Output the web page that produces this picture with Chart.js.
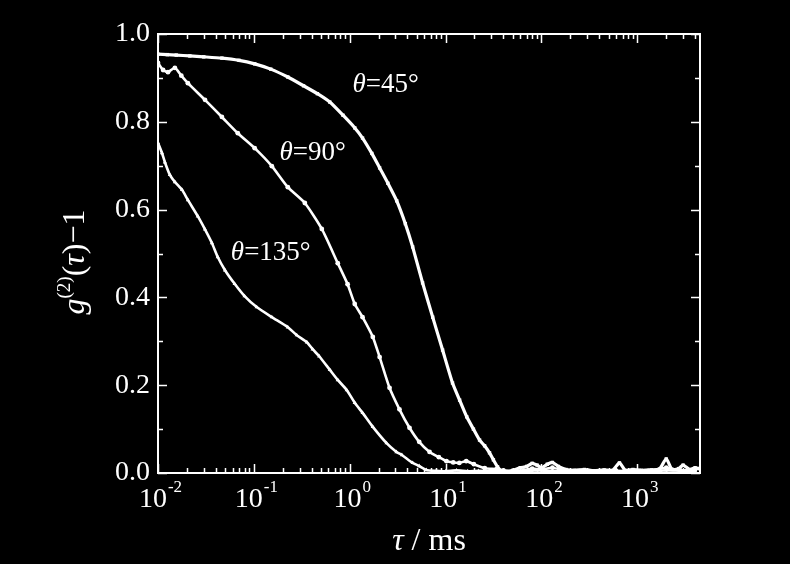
<!DOCTYPE html>
<html><head><meta charset="utf-8">
<script src="https://cdn.jsdelivr.net/npm/chart.js@4/dist/chart.umd.min.js"></script>
<style>html,body{margin:0;padding:0;background:#000;}#wrap{width:790px;height:564px;}</style>
</head><body><div id="wrap"><canvas id="c" width="790" height="564"></canvas></div>
<script>
// ---- data ----
const tau45 = [0.01,0.0125,0.0155,0.0215,0.03,0.0464,0.07,0.102,0.15,0.226,0.33,0.46,0.619,0.85,1.13,1.36,1.7,2.05,2.5,3.09,3.8,4.53,5.75,7.33,9.3,11.8,14,16.6,19.5,22.6,25.5,28.7,31.5,34.8,39.2,
  45,50,60,70,80,90,100,115,130,150,180,220,280,350,450,550,650,750,900,1100,1400,1700,2000,2300,2700,3000,3500,4000,4400];
const g45 = [0.954,0.953,0.952,0.950,0.948,0.945,0.940,0.932,0.920,0.902,0.882,0.864,0.845,0.815,0.786,0.763,0.728,0.695,0.660,0.620,0.568,0.515,0.433,0.355,0.280,0.205,0.166,0.128,0.100,0.075,0.062,0.046,0.030,0.014,0.003,
  0.003,0.006,0.012,0.015,0.022,0.018,0.012,0.020,0.024,0.015,0.008,0.006,0.008,0.005,0.007,0.006,0.023,0.006,0.008,0.006,0.007,0.009,0.032,0.008,0.010,0.018,0.008,0.012,0.010];
const tau90 = [0.01,0.0113,0.0127,0.015,0.0175,0.0205,0.0309,0.0464,0.068,0.102,0.154,0.226,0.34,0.511,0.75,0.95,1.127,1.36,1.74,2.05,2.6,3.3,4.2,5.3,6.8,8.5,10.2,12,13.9,16.4,19.7,25.6,34,
  40,50,65,80,100,130,170,220,300,400,600,900,1300,2000,2800,4000];
const g90 = [0.934,0.918,0.913,0.923,0.905,0.888,0.850,0.811,0.774,0.740,0.699,0.651,0.615,0.556,0.478,0.430,0.385,0.355,0.310,0.264,0.194,0.145,0.103,0.071,0.048,0.036,0.027,0.024,0.023,0.027,0.020,0.011,0.009,
  0.006,0.004,0.006,0.010,0.008,0.012,0.006,0.004,0.005,0.004,0.005,0.004,0.005,0.012,0.006,0.008];
const tau135 = [0.01,0.011,0.0118,0.0133,0.015,0.0178,0.0205,0.026,0.0309,0.0365,0.042,0.05,0.063,0.08,0.107,0.154,0.226,0.28,0.357,0.41,0.48,0.62,0.75,0.93,1.127,1.36,1.74,2.42,3.07,3.5,4.53,5.3,6.3,
  8,10,13,17,22,30,40,60,90,150,250,500,1000,2000,4000];
const g135 = [0.752,0.729,0.708,0.679,0.663,0.645,0.622,0.585,0.555,0.524,0.492,0.462,0.431,0.403,0.378,0.355,0.332,0.314,0.298,0.282,0.266,0.235,0.212,0.189,0.160,0.137,0.105,0.068,0.048,0.041,0.023,0.016,0.007,
  0.005,0.004,0.006,0.004,0.005,0.004,0.005,0.004,0.006,0.004,0.005,0.004,0.004,0.006,0.005];
const seriesNames = ['45°','90°','135°'];
const labelPos = [[2.37,0.884],[0.41,0.729],[0.150,0.501]];
const xDecades = [-2,-1,0,1,2,3];
const yTicks = [0,0.2,0.4,0.6,0.8,1.0];
const xMin = 0.01, xMax = 4500;

const FONT = "'Liberation Serif','Times New Roman',serif";
const pts = (xs, ys) => xs.map((x,i)=>({x:x,y:ys[i]}));

function ds(xs, ys, style, w){
  return {data:pts(xs,ys), borderColor:'#fff', backgroundColor:'#fff', borderWidth:w,
    pointStyle:style, pointRadius:2.4, pointBorderWidth:0, showLine:true, tension:0.2};
}

const deco = {
  id:'deco',
  beforeDraw(chart){
    const c=chart.ctx; c.save(); c.fillStyle='#000'; c.fillRect(0,0,chart.width,chart.height); c.restore();
  },
  afterDraw(chart){
    const c=chart.ctx, a=chart.chartArea, xs=chart.scales.x, ys=chart.scales.y;
    c.save();
    c.strokeStyle='#fff'; c.fillStyle='#fff'; c.lineWidth=2;
    c.strokeRect(a.left, a.top, a.right-a.left, a.bottom-a.top);
    c.lineWidth=1.5;
    for(const d of xDecades){
      for(let m=1;m<=9;m++){
        const v=m*Math.pow(10,d); if(v<xMin||v>xMax) continue;
        const px=Math.round(xs.getPixelForValue(v))+0.5; const L=(m===1)?9:5;
        c.beginPath(); c.moveTo(px,a.bottom); c.lineTo(px,a.bottom-L);
        c.moveTo(px,a.top); c.lineTo(px,a.top+L); c.stroke();
      }
    }
    for(let k=0;k<=10;k++){
      const v=k/10; const py=Math.round(ys.getPixelForValue(v))+0.5; const L=(k%2===0)?9:5;
      c.beginPath(); c.moveTo(a.left,py); c.lineTo(a.left+L,py);
      c.moveTo(a.right,py); c.lineTo(a.right-L,py); c.stroke();
    }
    c.textBaseline='alphabetic';
    for(const d of xDecades){
      const px=xs.getPixelForValue(Math.pow(10,d));
      c.font='28px '+FONT; const wb=c.measureText('10').width;
      const ex=String(d);
      c.font='17px '+FONT; const we=c.measureText(ex).width;
      const x0=px-(wb+we)/2+2;
      c.font='28px '+FONT; c.textAlign='left'; c.fillText('10',x0,507);
      c.font='17px '+FONT; c.fillText(ex,x0+wb+1,492);
    }
    c.font='italic 32px '+FONT; const wt=c.measureText('τ').width;
    c.font='32px '+FONT; const wr=c.measureText(' / ms').width;
    let x0=(a.left+a.right)/2-(wt+wr)/2;
    c.font='italic 32px '+FONT; c.fillText('τ',x0,550);
    c.font='32px '+FONT; c.fillText(' / ms',x0+wt,550);
    c.save(); c.translate(84,262); c.rotate(-Math.PI/2);
    const parts=[['italic 32px ','g',0],['19px ','(2)',-14],['32px ','(',0],['italic 32px ','τ',0],['32px ',')−1',0]];
    let tot=0; for(const p of parts){c.font=p[0]+FONT; tot+=c.measureText(p[1]).width;}
    let cx=-tot/2;
    for(const p of parts){c.font=p[0]+FONT; c.fillText(p[1],cx,p[2]); cx+=c.measureText(p[1]).width;}
    c.restore();
    c.textBaseline='middle';
    seriesNames.forEach((n,i)=>{
      const px=xs.getPixelForValue(labelPos[i][0]), py=ys.getPixelForValue(labelPos[i][1]);
      c.font='italic 27px '+FONT; const w1=c.measureText('θ').width;
      c.font='27px '+FONT; const w2=c.measureText('='+n).width;
      let lx=px-(w1+w2)/2;
      c.font='italic 27px '+FONT; c.fillText('θ',lx,py);
      c.font='27px '+FONT; c.fillText('='+n,lx+w1,py);
    });
    c.restore();
  }
};

new Chart(document.getElementById('c'),{
  type:'line',
  data:{datasets:[ds(tau45,g45,'rect',3.2),ds(tau90,g90,'circle',2.6),ds(tau135,g135,'triangle',2.6)]},
  options:{
    responsive:false, animation:false, devicePixelRatio:1,
    layout:{padding:{top:34,right:90,left:0,bottom:0}},
    plugins:{legend:{display:false},tooltip:{enabled:false}},
    scales:{
      x:{type:'logarithmic',min:xMin,max:xMax,
        grid:{display:false,drawTicks:false}, border:{display:false},
        ticks:{display:false},
        afterFit(s){s.height=91;}},
      y:{type:'linear',min:0,max:1,
        grid:{display:false,drawTicks:false}, border:{display:false},
        afterBuildTicks(s){s.ticks=yTicks.map(v=>({value:v}));},
        ticks:{color:'#fff',padding:8,font:{family:FONT,size:28},callback:v=>Number(v).toFixed(1)},
        afterFit(s){s.width=158;}}
    }
  },
  plugins:[deco]
});
</script></body></html>
